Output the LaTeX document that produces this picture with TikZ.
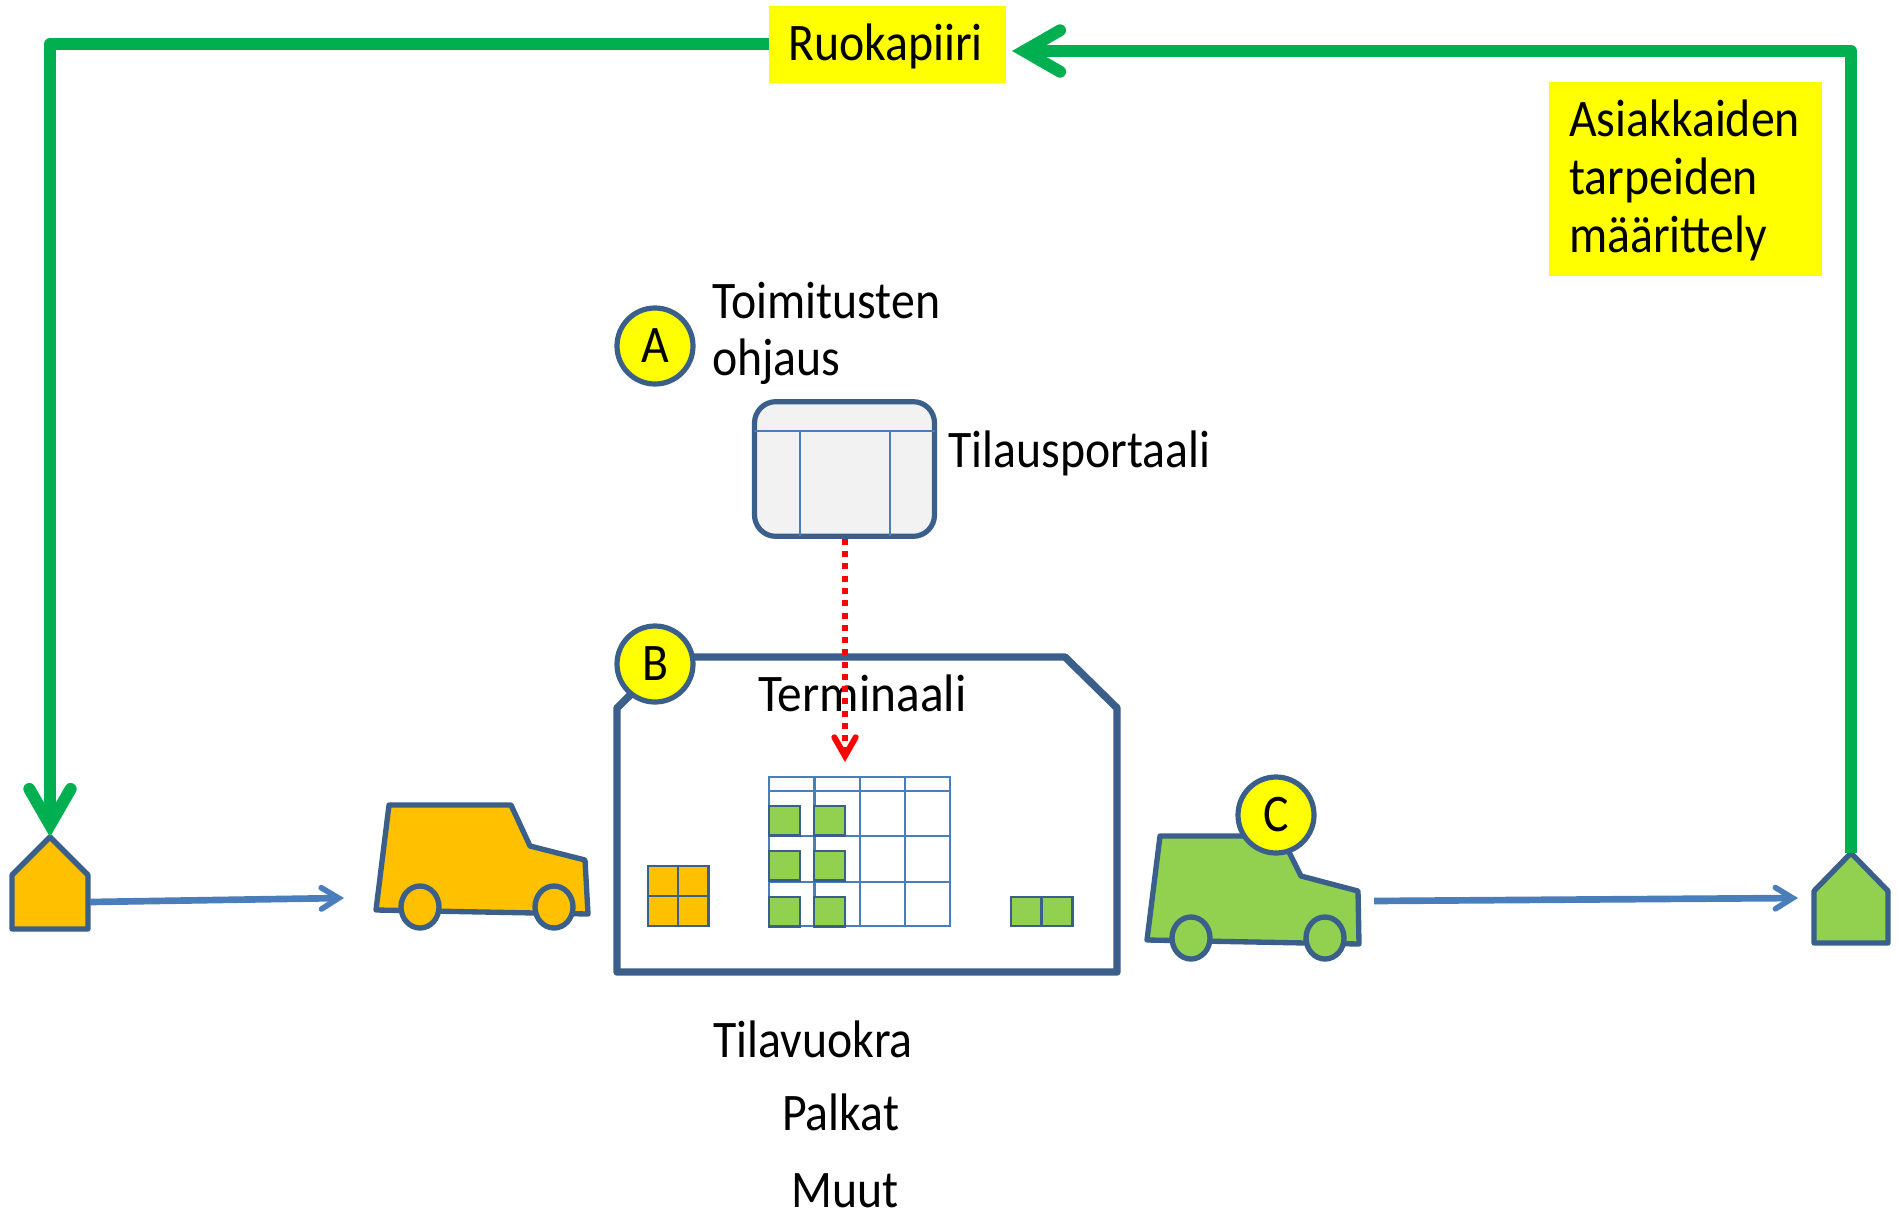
\documentclass[tikz,border=0pt]{standalone}
\usepackage{fontspec}
\setmainfont[FakeStretch=0.905]{Carlito}
\newfontfamily\widerfont[FakeStretch=0.935]{Carlito}
\usetikzlibrary{arrows.meta}
\definecolor{edgeblue}{HTML}{3A5F8B}
\definecolor{lineblue}{HTML}{4A7EBB}
\definecolor{loopgreen}{HTML}{00B050}
\definecolor{truckorange}{HTML}{FFC000}
\definecolor{truckgreen}{HTML}{92D050}
\definecolor{hiyellow}{HTML}{FFFF00}
\definecolor{orderred}{HTML}{FF0000}
\definecolor{portalgrey}{HTML}{F2F2F2}
\tikzset{
  lbl/.style={anchor=base west,inner sep=0pt,font=\fontsize{39.6pt}{47pt}\selectfont,text=black},
  hl/.style={fill=hiyellow,inner sep=0pt,anchor=north west},
  badge/.style={circle,draw=edgeblue,line width=3.9pt,fill=hiyellow,minimum size=57pt,inner sep=0pt,font=\fontsize{39.6pt}{47pt}\selectfont},
  shapeline/.style={draw=edgeblue,line width=4pt,line join=round},
  cell/.style={draw=edgeblue,line width=1.9pt},
  gridline/.style={draw=lineblue,line width=2pt},
  loopline/.style={draw=loopgreen,line width=9pt,line join=round,
    -{Straight Barb[length=27pt,width=31pt,line width=9pt,line cap=round,line join=miter]}},
  flowline/.style={draw=lineblue,line width=5pt,
    -{Straight Barb[length=13pt,width=16pt,line width=4.2pt,line cap=round,line join=miter]}},
  orderline/.style={draw=orderred,line width=4.5pt,dash pattern=on 4.5pt off 4.7pt,
    -{Straight Barb[length=14pt,width=16pt,line width=4.5pt,line cap=round,line join=miter]}}
}
\begin{document}
\begin{tikzpicture}[x=0.75pt,y=-0.75pt]
\useasboundingbox (0,0) rectangle (1898,1214);
% left house
\draw[shapeline,fill=truckorange] (12,875) -- (50,837) -- (88,875) -- (88,929) -- (12,929) -- cycle;
\coordinate (houseLtop) at (50,837);
\coordinate (houseLeast) at (90,902);
% right house
\draw[shapeline,fill=truckgreen] (1814,891) -- (1851,853) -- (1888,891) -- (1888,943) -- (1814,943) -- cycle;
\coordinate (houseRtop) at (1851,853);
% orange truck
\draw[shapeline,fill=truckorange] (389,805) -- (511,805) -- (530,846) -- (585,860) -- (588,914) -- (376,910) -- cycle;
\draw[shapeline,fill=truckorange] (420,907) ellipse [x radius=19,y radius=21];
\draw[shapeline,fill=truckorange] (554,907) ellipse [x radius=19,y radius=21];
\coordinate (truckOend) at (344,898);
% green truck
\draw[shapeline,fill=truckgreen] (1160,836) -- (1281,836) -- (1301,876) -- (1358,891) -- (1359,944) -- (1147,940) -- cycle;
\draw[shapeline,fill=truckgreen] (1191,938) ellipse [x radius=19,y radius=21];
\draw[shapeline,fill=truckgreen] (1325,938) ellipse [x radius=19,y radius=21];
\coordinate (truckGstart) at (1374,901);
\coordinate (houseRend) at (1798,898);
% terminal
\draw[draw=edgeblue,line width=5.6pt,line join=round] (669,657) -- (1065,657) -- (1117,708) -- (1117,972) -- (617,972) -- (617,708) -- cycle;
% terminal grid
\draw[gridline] (769,777) rectangle (950,926);
\foreach \gx in {814.6,860,905} \draw[gridline] (\gx,777) -- (\gx,926);
\foreach \gy in {791,836,882} \draw[gridline] (769,\gy) -- (950,\gy);
\foreach \gx in {769,814} \foreach \gy in {806,851,897}
  \draw[cell,fill=truckgreen] (\gx,\gy) rectangle ++(31,29.5);
% stacks
\foreach \gx in {648,678} \foreach \gy in {866,896}
  \draw[cell,fill=truckorange] (\gx,\gy) rectangle ++(30.5,30);
\foreach \gx in {1011,1042}
  \draw[cell,fill=truckgreen] (\gx,897) rectangle ++(30.5,29);
% portal
\node[draw=edgeblue,line width=3.9pt,fill=portalgrey,rounded corners=16pt,minimum width=135pt,minimum height=101pt,inner sep=0pt] (portal) at (844.5,469) {};
\draw[gridline] (754,431) -- (935,431) (800,431) -- (800,536) (890,431) -- (890,536);
% texts
\node[lbl,font=\fontsize{39.6pt}{47pt}\widerfont] (terminaali) at (758,711) {Terminaali};
\node[lbl] (toimitus) at (712,318) {Toimitusten};
\node[lbl] (ohjaus) at (712,375) {ohjaus};
\node[lbl] (tilaus) at (948,467) {Tilausportaali};
\node[lbl] (vuokra) at (713,1057) {Tilavuokra};
\node[lbl] (palkat) at (782,1130) {Palkat};
\node[lbl] (muut) at (791,1207) {Muut};
% yellow labels
\node[hl,minimum width=177.75pt,minimum height=57.75pt] (ruoka) at (769,6) {};
\node[lbl] (ruokat) at (788,60) {Ruokapiiri};
\node[hl,minimum width=204.75pt,minimum height=145.5pt] (needs) at (1549,82) {};
\node[lbl] (needs1) at (1569,136) {Asiakkaiden};
\node[lbl] (needs2) at (1569,194) {tarpeiden};
\node[lbl] (needs3) at (1569,252) {määrittely};
% badges
\node[badge] (badgeA) at (655,346) {A};
\node[badge] (badgeB) at (655,664) {B};
\node[badge] (badgeC) at (1276,815) {C};
% connectors
\coordinate (ruokaIn) at (1012,51);
\coordinate (cornerR) at (1851,51);
\coordinate (cornerL) at (50,44);
\coordinate (redEnd) at (845,762);
\draw[loopline] (ruoka.west |- cornerL) -- (cornerL) -- (houseLtop);
\draw[loopline] (houseRtop) -- (cornerR) -- (ruokaIn);
\draw[flowline] (houseLeast) -- (truckOend);
\draw[flowline] (truckGstart) -- (houseRend);
\draw[orderline] (portal.south -| redEnd) -- (redEnd);
\end{tikzpicture}
\end{document}
